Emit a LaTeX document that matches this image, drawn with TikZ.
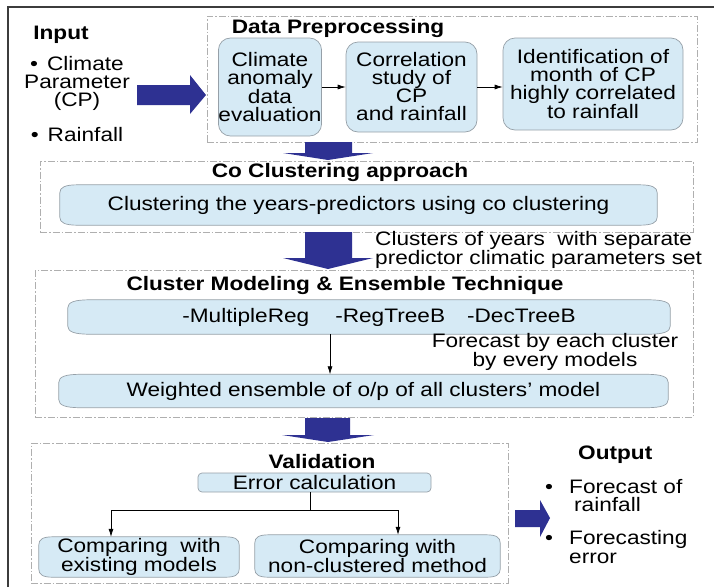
\documentclass[tikz,border=0pt]{standalone}
\usepackage{fontspec}
\setmainfont{Liberation Sans}[FakeStretch=1.16]
\usetikzlibrary{calc,arrows.meta,backgrounds}
\definecolor{boxfill}{RGB}{214,234,245}
\definecolor{boxline}{RGB}{150,160,168}
\definecolor{dashgrey}{RGB}{175,175,175}
\definecolor{navy}{RGB}{46,49,146}
\definecolor{framegrey}{RGB}{60,60,60}
\tikzset{
  txt/.style={font=\fontsize{19.5}{18}\selectfont, align=center, inner sep=0pt},
  ttl/.style={font=\fontsize{19.5}{18}\selectfont\bfseries, inner sep=0pt},
  rbox/.style={txt, draw=boxline, fill=boxfill, rounded corners=12pt, line width=0.7pt},
  sbox/.style={txt, draw=none},
  container/.style={draw=dashgrey, line width=0.8pt, dash pattern=on 7pt off 2pt on 1.5pt off 2pt, inner sep=0pt},
  conn/.style={-{Latex[length=8pt,width=5pt]}, line width=0.7pt, black},
  plain/.style={line width=0.7pt, black},
  blockarrow/.style={fill=navy, draw=none},
}
\newcommand\softbox[3]{%
\begin{scope}[on background layer]
\path[fill=boxfill,draw=boxline,line width=0.7pt]
($(#1.north west)+(0,#3)$)
 .. controls ($(#1.north west)+(0,0.3*#3)$) and ($(#1.north west)+(0.3*#2,0)$) .. ($(#1.north west)+(#2,0)$)
 -- ($(#1.north east)+(-#2,0)$)
 .. controls ($(#1.north east)+(-0.3*#2,0)$) and ($(#1.north east)+(0,0.3*#3)$) .. ($(#1.north east)+(0,#3)$)
 -- ($(#1.south east)+(0,-#3)$)
 .. controls ($(#1.south east)+(0,-0.3*#3)$) and ($(#1.south east)+(-0.3*#2,0)$) .. ($(#1.south east)+(-#2,0)$)
 -- ($(#1.south west)+(#2,0)$)
 .. controls ($(#1.south west)+(0.3*#2,0)$) and ($(#1.south west)+(0,-0.3*#3)$) .. ($(#1.south west)+(0,-#3)$)
 -- cycle;
\end{scope}}
\begin{document}
\begin{tikzpicture}[x=1pt,y=-1pt]
\useasboundingbox (0,0) rectangle (714,587);
% outer frame
\draw[framegrey, line width=1.2pt] (8,587) -- (8,7) -- (714,7);

% containers
\node[container, minimum width=490, minimum height=126] (pre) at (452,79) {};
\node[container, minimum width=653, minimum height=71] (co) at (366.5,196.5) {};
\node[container, minimum width=658, minimum height=147] (cm) at (364,343.5) {};
\node[container, minimum width=477, minimum height=140] (val) at (269.5,513) {};

% input
\node[ttl] (inp) at (61,35) {Input};
\node[txt] (cp) at (77,83) {•\hspace{9pt}Climate\\Parameter\\(CP)};
\node[txt] (rf) at (77,135) {•\hspace{9pt}Rainfall};

% data preprocessing
\node[ttl] (pret) at (338,28) {Data Preprocessing};
\node[rbox, minimum width=102, minimum height=98] (b1) at (270,87) {Climate\\anomaly\\data\\evaluation};
\node[rbox, minimum width=131, minimum height=90] (b2) at (411.5,87) {Correlation\\study of\\CP\\and rainfall};
\node[rbox, minimum width=180, minimum height=92] (b3) at (593,84) {Identification of\\month of CP\\highly correlated\\to rainfall};
\draw[conn] (b1.east) -- (b2.west);
\draw[conn] (b2.east) -- (b2.east -| b3.west);

% co clustering
\node[ttl] (cot) at (340,172) {Co Clustering approach};
\node[sbox, minimum width=597, minimum height=40] (cc) at (358.5,205) {Clustering the years-predictors using co clustering};
\softbox{cc}{18}{8}
\node[txt, anchor=west, align=left] (cl) at (375,250) {Clusters of years \ with separate\\predictor climatic parameters set};

% cluster modeling
\node[ttl] (cmt) at (345,285) {Cluster Modeling \& Ensemble Technique};
\node[sbox, minimum width=602, minimum height=34] (mr) at (369,317) {\hspace*{20pt}-MultipleReg\hspace{26pt}-RegTreeB\hspace{22pt}-DecTreeB};
\softbox{mr}{22}{8}
\node[txt] (fc) at (555,352) {Forecast by each cluster\\by every models};
\node[sbox, minimum width=609, minimum height=33] (we) at (363.5,391) {Weighted ensemble of o/p of all clusters' model};
\softbox{we}{22}{8}
\coordinate (m1) at (330,0);
\draw[conn] (mr.south -| m1) -- (we.north -| m1);

% validation
\node[ttl] (valt) at (322,462) {Validation};
\node[rbox, rounded corners=4pt, minimum width=233, minimum height=19] (err) at (314.5,482.5) {Error calculation};
\node[sbox, minimum width=200, minimum height=40] (c1) at (139,557) {Comparing \ with\\existing models};
\softbox{c1}{14}{8}
\node[sbox, minimum width=245, minimum height=42] (c2) at (377.5,556) {Comparing with\\non-clustered method};
\softbox{c2}{14}{8}
\coordinate (j) at (310,510);
\coordinate (jl) at (111,510);
\coordinate (jr) at (398,510);
\draw[plain] (err.south -| j) -- (j);
\draw[plain] (jl) -- (jr);
\draw[conn] (jl) -- (c1.north -| jl);
\draw[conn] (jr) -- (c2.north -| jr);

% output
\node[ttl, anchor=west] (outt) at (578,455) {Output};
\node[txt, anchor=base west] (ob1) at (545,493) {•};
\node[txt, anchor=base west] (o1) at (569,493) {Forecast of};
\node[txt, anchor=base west] (o1b) at (574,511) {rainfall};
\node[txt, anchor=base west] (ob2) at (545,544) {•};
\node[txt, anchor=base west] (o2) at (569,544) {Forecasting};
\node[txt, anchor=base west] (o2b) at (569,563) {error};

% block arrows
\fill[blockarrow] (137,85) -- (190,85) -- (190,75) -- (206,95) -- (190,114) -- (190,105) -- (137,105) -- cycle;
\fill[blockarrow] (305,142) -- (352,142) -- (352,153) -- (373,153) -- (328,160) -- (283,153) -- (305,153) -- cycle;
\fill[blockarrow] (305,232) -- (352,232) -- (352,258) -- (373,258) -- (328,269) -- (283,258) -- (305,258) -- cycle;
\fill[blockarrow] (305,418) -- (350,418) -- (350,435) -- (374,435) -- (328,442) -- (282,435) -- (305,435) -- cycle;
\fill[blockarrow] (515,510) -- (540,510) -- (540,500) -- (550,518) -- (540,537) -- (540,527) -- (515,527) -- cycle;
\end{tikzpicture}
\end{document}
